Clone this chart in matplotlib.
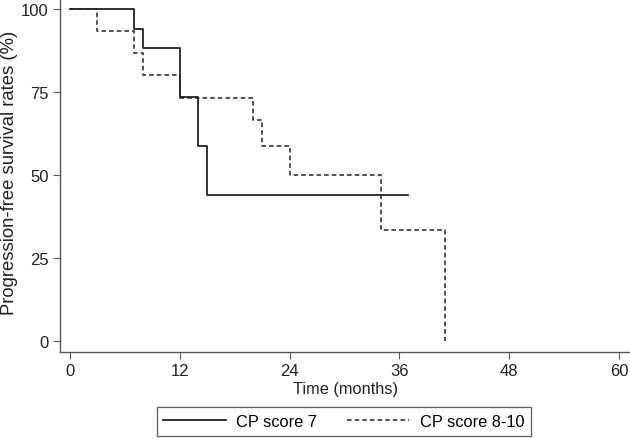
import matplotlib
matplotlib.use("Agg")
import matplotlib.pyplot as plt

plt.rcParams['font.family'] = ['Liberation Sans', 'DejaVu Sans']

# CP score 7 (solid)
t7 = [0, 7, 8, 12, 14, 15, 36.9]
s7 = [100, 94.1, 88.2, 73.5, 58.8, 44.1, 44.1]
# CP score 8-10 (dashed)
t8 = [0, 3, 7, 8, 12, 20, 21, 24, 34, 41, 41]
s8 = [100, 93.3, 86.7, 80.0, 73.3, 66.7, 58.7, 50.0, 33.3, 0.0, 0.0]

xticks = [0, 12, 24, 36, 48, 60]
yticks = [0, 25, 50, 75, 100]
labels = ["CP score 7", "CP score 8-10"]

fig = plt.figure(figsize=(6.3, 4.39), dpi=100)
ax = fig.add_axes([60/630, 1-353/439, 570/630, 353/439])
col = '#222222'
ax.step(t7, s7, where='post', color=col, lw=1.3, label=labels[0])
ax.step(t8, s8, where='post', color=col, lw=1.1, ls=(0, (3, 2)), label=labels[1])

ax.set_xlim(-1.09, 61.2)
ax.set_ylim(-3.3, 103.0)
ax.set_xticks(xticks)
ax.set_yticks(yticks)
for s in ['top', 'right']:
    ax.spines[s].set_visible(False)
for s in ['left', 'bottom']:
    ax.spines[s].set_color('#555555')
    ax.spines[s].set_linewidth(1.0)
ax.tick_params(direction='out', length=5, pad=3, color='#555555', labelsize=12, labelcolor='#222222')
fig.text(10/630, 1-173/439, "Progression-free survival rates (%)", fontsize=13.3, color='#222222',
         ha='center', va='center', rotation=90)
fig.text(345/630, 1-390/439, "Time (months)", fontsize=11.8, color='#222222', ha='center', va='center')

leg = fig.legend(loc='center', bbox_to_anchor=(344/630, 1-422.5/439), ncol=2,
                 frameon=True, fancybox=False, edgecolor='#333333', fontsize=11.8,
                 handlelength=3.8, columnspacing=1.8, borderpad=0.4, handletextpad=0.67)
leg.get_frame().set_linewidth(0.9)
fig.savefig("out.png", dpi=100)
